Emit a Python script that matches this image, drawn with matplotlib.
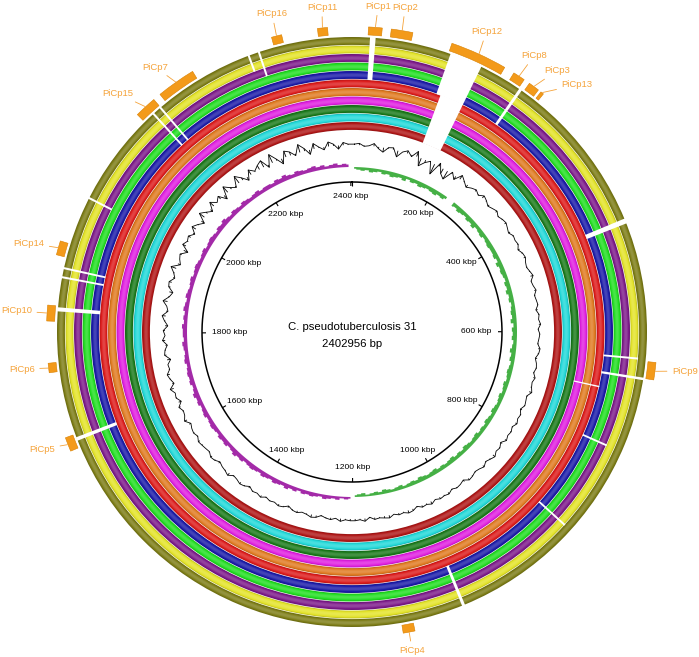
import numpy as np
import matplotlib.pyplot as plt
import matplotlib.colors as mcolors

# genome
genome_kbp = 2402.956
genome_name = 'C. pseudotuberculosis 31'
genome_size = '2402956 bp'

# comparison rings, outermost first
ring_colors = ['#7d7d17', '#e3e32a', '#7d1b8a', '#22dd22', '#1c1ca8', '#dc1c1c',
               '#e07b22', '#e020e0', '#1b7a1b', '#22d8d8', '#b01818']

# regions missing in the rings (kbp), ring index range outer..inner
gap_start = [23.4, 130.2, 136.8, 230.3, 449.9, 634.8, 660.2, 682.8, 759.6, 881.1,
             1051.3, 1658.0, 1829.0, 1872.3, 1884.3, 1981.1, 2119.3, 2131.3, 2264.8, 2278.8]
gap_end = [30.7, 173.5, 173.5, 234.3, 456.6, 637.5, 663.5, 684.9, 762.3, 883.8,
           1055.3, 1662.8, 1834.3, 1875.0, 1887.0, 1983.8, 2122.0, 2134.0, 2267.5, 2281.5]
gap_outer = [0, 0, 5, 0, 0, 1, 0, 5, 2, 1, 0, 0, 0, 0, 0, 0, 0, 0, 0, 0]
gap_inner = [4, 4, 10, 4, 4, 4, 4, 7, 4, 4, 4, 4, 4, 4, 4, 2, 4, 4, 1, 2]

# pathogenicity islands (kbp)
island_names = ['PiCp1', 'PiCp2', 'PiCp12', 'PiCp8', 'PiCp3', 'PiCp13', 'PiCp9', 'PiCp4',
                'PiCp5', 'PiCp6', 'PiCp10', 'PiCp14', 'PiCp15', 'PiCp7', 'PiCp16', 'PiCp11']
island_start = [20.7, 49.4, 127.5, 213.6, 237.0, 255.0, 639.0, 1122.0,
                1649.0, 1751.0, 1816.0, 1900.0, 2105.0, 2143.0, 2301.0, 2359.6]
island_end = [38.0, 76.8, 200.2, 229.0, 251.0, 259.0, 661.0, 1137.0,
              1667.0, 1763.0, 1836.0, 1918.0, 2133.0, 2193.0, 2314.0, 2372.3]

tick_kbp = list(range(200, 2401, 200))

# GC content deviation per 10 kbp window
gc_content = [1, 2, -1, 0, 3, -2, -5, 1, 2, -7, 0, 3, -2, 6, -9, -3, 1, -12, 4, -6,
              -10, 2, -4, 5, 1, -3, 0, 2, -1, 3, 1, -2, 0, 2, -1, 1, 2, 0, -2, 1,
              0, 1, -2, 1, 2, 0, -1, 1, 3, -1, 0, 2, -1, 0, 1, -2, 1, 0, 2, -1,
              1, 0, -1, 2, 1, -2, 0, 1, -1, 2, 0, 1, 3, -1, 0, 1, -2, 1, 0, 2,
              -1, 1, 0, 2, -2, 1, 0, 3, 1, -1, 2, 0, -1, 1, 2, -2, 0, 1, -1, 2,
              1, 2, 0, 3, 1, 2, -1, 2, 3, 1, 2, 0, 3, 2, 1, 2, -1, 3, 1, 2,
              2, 1, 3, 0, 2, 1, -1, 2, 3, 1, 0, 2, 1, -2, 1, 2, 0, 1, -1, 2,
              0, 1, -2, 1, 2, 0, -1, 3, 1, 0, -2, 1, 2, -1, 0, 1, 2, -1, 1, 0,
              -2, 3, 0, -1, 2, -3, 1, 0, 4, -2, 1, 3, -1, 0, -4, 2, 1, -2, 3, 0,
              2, -3, 1, 4, -2, 0, 5, -1, -4, 2, 3, -2, 1, 6, -3, 0, 2, -5, 4, 1,
              3, -2, 5, 1, -4, 7, 2, -3, 6, 0, 4, -5, 8, 2, -2, 9, 3, -4, 6, 1,
              5, 8, -3, 10, 2, -6, 7, 4, -2, 9, 3, -5, 6, 1, -3, 5, 2, -4, 3, 1]

# GC skew per 10 kbp window
gc_skew = [2, 3, 4, 3, 5, 4, 3, 5, 4, 6, 5, 4, 6, 3, 5, 4, 6, 5, 4, 5,
           6, 4, 5, 3, -4, 5, 4, 6, 5, 4, 6, 5, 7, 4, 5, 6, 4, 5, 6, 5,
           5, 6, 4, 7, 5, 6, 5, 4, 6, 5, 7, 5, 6, 4, 5, 6, 5, 7, 4, 6,
           5, 6, 4, 5, 7, 5, 6, 4, 5, 6, 5, 4, 6, 5, 4, 6, 5, 4, 5, 6,
           4, 5, 6, 4, 5, 4, 6, 5, 4, 5, 6, 4, 5, 4, 6, 5, 4, 5, 4, 6,
           5, 4, 5, 6, 4, 5, 4, 3, 5, 4, 3, 4, 5, 3, 4, 3, 2, 4, 3, 2,
           -2, -3, -2, -4, -3, -4, -5, -3, -4, -5, -4, -5, -3, -5, -4, -6, -4, -5, -6, -4,
           -5, -6, -4, -5, -6, -5, -4, -6, -5, -7, -5, -4, -6, -5, -6, -4, -5, -6, -5, -4,
           -6, -5, -4, -6, -5, -7, -5, -4, -6, -5, -6, -5, -4, -6, -5, -4, -5, -6, -4, -5,
           -5, -6, -4, -5, -4, -6, -5, -4, -6, -5, -4, -5, -6, -4, -5, -6, -5, -4, -5, -6,
           -4, -5, -6, -5, -4, -6, -5, -7, -5, -4, -6, -5, -4, -6, -5, -4, -5, -6, -4, -5,
           -5, -4, -6, -5, -7, -5, -4, -6, -5, -4, -5, -6, -4, -5, -3, -4, -5, -3, -4, -3]

# label layout (degrees clockwise from top, radius in px)
label_angle = [4.6, 9.3, 24.1, 33.4, 38.1, 42.3, 96.7, 169.3,
               249.3, 263.6, 273.6, 285.4, 315.5, 323.4, 345.9, 354.7]
label_radius = [327, 329, 329, 331, 332, 334, 335, 324,
                331, 332, 336, 335, 334, 330, 328, 326]

orange = '#f39a1a'
label_col = '#f5a33a'


def th(kbp):
    return np.asarray(kbp) / genome_kbp * 2 * np.pi


def shade(c, f):
    rgb = np.array(mcolors.to_rgb(c))
    if f > 0:
        return rgb + (1 - rgb) * f
    return rgb * (1 + f)


W, H = 699, 657
cx, cy = 352, 332
R = 345
fig = plt.figure(figsize=(W / 100, H / 100), dpi=100)
ax = fig.add_axes([(cx - R) / W, (H - cy - R) / H, 2 * R / W, 2 * R / H], projection='polar')
ax.set_theta_zero_location('N')
ax.set_theta_direction(-1)
ax.set_ylim(0, R)
ax.axis('off')

# rings: nested layers, slightly darker edges and a lighter core
ring_top, ring_step, ring_w = 295, 8.5, 7.9
layers = [-0.12, 0.0, 0.1, 0.17]
for i, c in enumerate(ring_colors):
    r_out = ring_top - i * ring_step
    for k, f in enumerate(layers):
        inset_out = k * 1.0
        inset_in = k * 0.9
        hgt = ring_w - inset_out - inset_in
        ax.bar(0, hgt, width=2 * np.pi, bottom=r_out - ring_w + inset_in,
               color=shade(c, f), linewidth=0, align='edge')

for s, e, o, n_ in zip(gap_start, gap_end, gap_outer, gap_inner):
    r_hi = ring_top - o * ring_step + 0.8
    r_lo = ring_top - n_ * ring_step - ring_w - 0.5
    ax.bar(th(s), r_hi - r_lo, width=th(e) - th(s), bottom=r_lo,
           color='white', linewidth=0, align='edge')

# islands and labels
for name, s, e, la, lr in zip(island_names, island_start, island_end, label_angle, label_radius):
    ax.bar(th(s), 8, width=th(e) - th(s), bottom=297.5, color=orange,
           edgecolor='#d98000', linewidth=0.4, align='edge')
    ax.annotate(name, xy=(th((s + e) / 2), 306), xytext=(np.deg2rad(la), lr),
                ha='center', va='center', fontsize=6.8, color=label_col,
                family='Liberation Sans',
                arrowprops=dict(arrowstyle='-', color=label_col, lw=0.6,
                                shrinkA=1.5, shrinkB=0))

# GC content trace with spikes from the mean
win = (np.arange(len(gc_content)) + 0.5) * 10
t_gc = th(win)
gc = np.array(gc_content, dtype=float) * 0.9
ax.plot(np.append(t_gc, t_gc[0] + 2 * np.pi), 187 + np.append(gc, gc[0]),
        color='black', lw=0.6)
ax.vlines(t_gc, 187, 187 + gc, color='black', lw=0.6)

# GC skew
t_sk = th((np.arange(len(gc_skew)) + 0.5) * 10)
skew = np.array(gc_skew, dtype=float) * 0.85
ax.fill_between(t_sk, 165, 165 - skew, where=skew > 0, step='mid',
                color='#45b045', linewidth=0)
ax.fill_between(t_sk, 165, 165 - skew, where=skew < 0, step='mid',
                color='#a32aa8', linewidth=0)

# backbone circle with ticks
circ = np.linspace(0, 2 * np.pi, 500)
ax.plot(circ, np.full_like(circ, 150), color='black', lw=1.1)
ax.vlines(th([0] + tick_kbp), 146, 150, color='black', lw=0.8)
for k in tick_kbp:
    t = th(k)
    s, c = np.sin(t), np.cos(t)
    lab = f'{k} kbp'
    w, h = 4.4 * len(lab), 8
    dx = -(w / 2) * s * abs(s) * 0.72
    dy = -(h / 2) * c * abs(c) * 0.72
    ax.annotate(lab, xy=(t, 140), xytext=(dx, dy), textcoords='offset points',
                ha='center', va='center', fontsize=6.1, family='Liberation Sans')

ax.annotate(genome_name, xy=(0, 0), xytext=(0, 3.6), textcoords='offset points',
            ha='center', va='center', fontsize=8.2, family='Liberation Sans')
ax.annotate(genome_size, xy=(0, 0), xytext=(0, -8.6), textcoords='offset points',
            ha='center', va='center', fontsize=8.2, family='Liberation Sans')

fig.savefig('out.png', dpi=100, facecolor='white')
